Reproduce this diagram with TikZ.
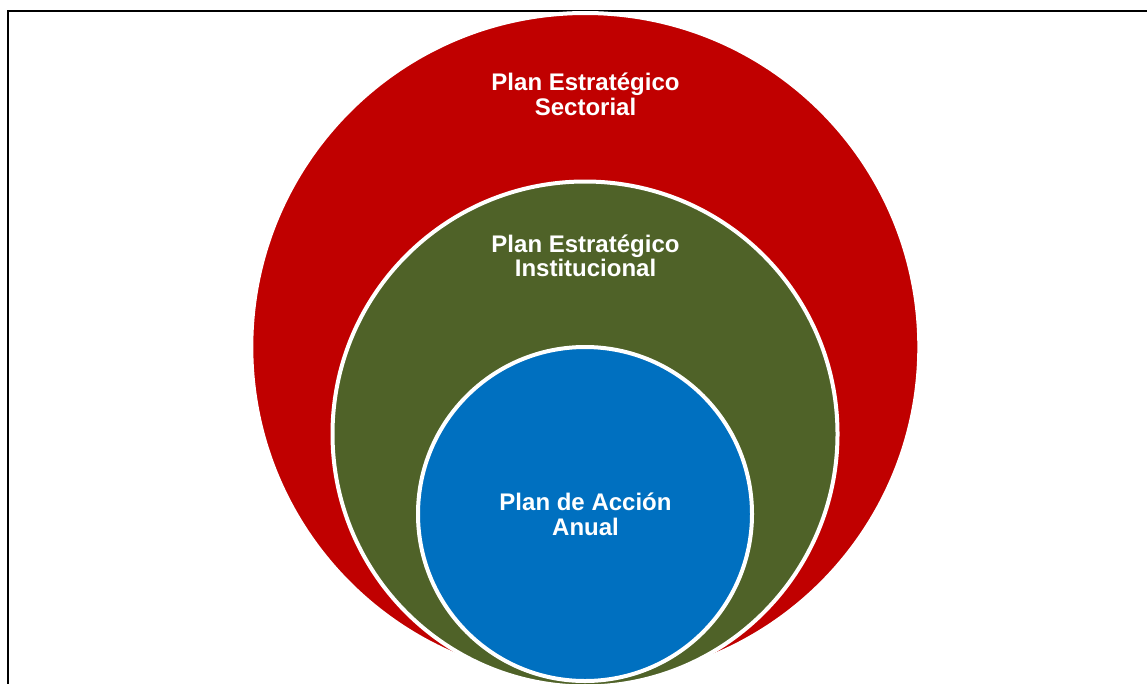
\documentclass[tikz,border=0pt]{standalone}
\usepackage{fontspec}
\setmainfont{Liberation Sans}
\definecolor{planred}{HTML}{C00000}
\definecolor{plangreen}{HTML}{4F6228}
\definecolor{planblue}{HTML}{0070C0}
\tikzset{
  ring/.style={draw=white, line width=4pt},
  lbl/.style={text=white, font=\bfseries\fontsize{24}{24.5}\selectfont, align=center, anchor=base, inner sep=0pt},
  frame/.style={draw=black, line width=2pt}
}
\begin{document}
\begin{tikzpicture}[x=1pt,y=-1pt]
\useasboundingbox (0,0) rectangle (1147,683);
\clip (0,0) rectangle (1147,683);
\draw[frame] (8.2,11) rectangle (1170,710);
\draw[ring] (585.3,347) circle (334) [fill=planred];
\draw[ring] (585,434) circle (252.5) [fill=plangreen];
\draw[ring] (585,514) circle (167) [fill=planblue];
\node[lbl] (sect) at (585.5,115) {Plan Estratégico\\Sectorial};
\node[lbl] (inst) at (585.5,276.7) {Plan Estratégico\\Institucional};
\node[lbl] (anual) at (585.5,535) {Plan de Acción\\Anual};
\end{tikzpicture}
\end{document}
